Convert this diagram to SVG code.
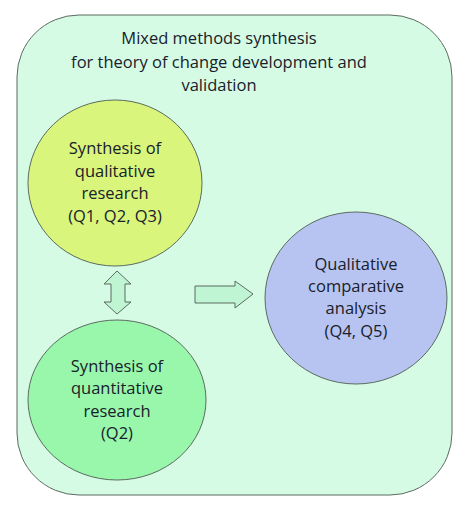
<svg xmlns="http://www.w3.org/2000/svg" width="474" height="521" viewBox="0 0 474 521">
<style>
.t{font-family:"Open Sans","Noto Sans",sans-serif;font-size:16.5px;fill:#18212b;text-anchor:middle}
.s{stroke:#5b6b60;stroke-width:1}
</style>
<rect width="474" height="521" fill="#ffffff"/>
<g id="container">
<rect x="17" y="15" width="435" height="480" rx="62" ry="62" fill="#d6fbe5" class="s"/>
<text class="t"><tspan x="219" y="44">Mixed methods synthesis</tspan><tspan x="219" y="68">for theory of change development and</tspan><tspan x="219" y="91">validation</tspan></text>
</g>
<g id="qual">
<ellipse cx="115" cy="183" rx="87" ry="83" fill="#d9f57c" class="s"/>
<text class="t"><tspan x="115" y="154">Synthesis of</tspan><tspan x="115" y="177">qualitative</tspan><tspan x="115" y="199">research</tspan><tspan x="115" y="222">(Q1, Q2, Q3)</tspan></text>
</g>
<g id="quant">
<ellipse cx="117" cy="400" rx="89" ry="80" fill="#99f7ab" class="s"/>
<text class="t"><tspan x="117" y="372">Synthesis of</tspan><tspan x="117" y="394">quantitative</tspan><tspan x="117" y="417">research</tspan><tspan x="117" y="439">(Q2)</tspan></text>
</g>
<g id="qca">
<ellipse cx="356" cy="298" rx="91" ry="86" fill="#b7c4f2" class="s"/>
<text class="t"><tspan x="356" y="270">Qualitative</tspan><tspan x="356" y="292">comparative</tspan><tspan x="356" y="314">analysis</tspan><tspan x="356" y="337">(Q4, Q5)</tspan></text>
</g>
<g id="connectors">
<path d="M117 271 L131 284 L125 284 L125 302 L131 302 L117 314 L104 302 L111 302 L111 284 L104 284 Z" fill="#bff5d2" class="s"/>
<path d="M195 286 L235 286 L235 281 L253 294 L235 308 L235 303 L195 303 Z" fill="#bff5d2" class="s"/>
</g>
</svg>
